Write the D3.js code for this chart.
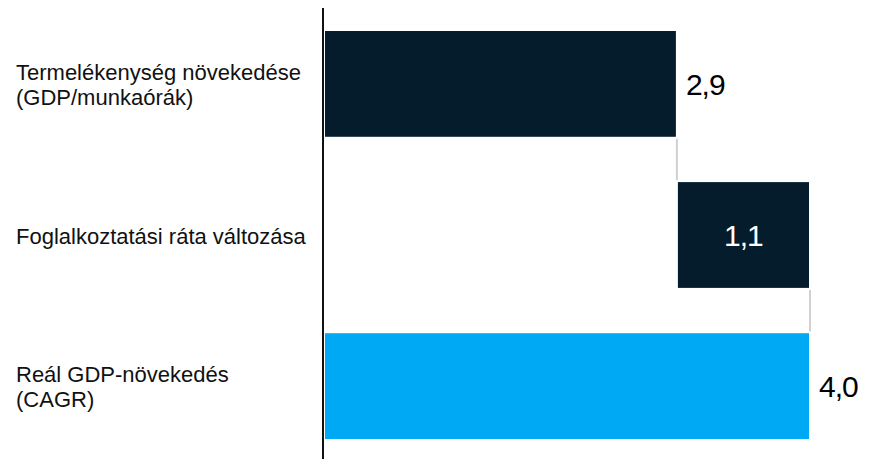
<!DOCTYPE html>
<html><head><meta charset="utf-8">
<script src="https://cdn.jsdelivr.net/npm/d3@7"></script>
<style>body{margin:0;background:#fff}svg{display:block}text{font-family:"Liberation Sans",Arial,sans-serif}</style>
</head><body><svg id="c" width="878" height="459"></svg>
<script>
const categories = [["Termelékenység növekedése","(GDP/munkaórák)"],["Foglalkoztatási ráta változása"],["Reál GDP-növekedés","(CAGR)"]];
const values = [2.9, 1.1, 4.0];
const valueLabels = ["2,9","1,1","4,0"];
const kinds = ["step","step","total"];
const colors = {step:"#051c2c", total:"#00a9f4"};

const svg = d3.select("#c");
const x = d3.scaleLinear().domain([0,4.0]).range([325,809]);
const y = d3.scaleBand().domain(d3.range(values.length)).range([31,439]).paddingInner(0.3).paddingOuter(0);

let cum = 0;
const bars = values.map((v,i)=>{
  let x0,x1;
  if(kinds[i]==="total"){x0=0;x1=v;cum=v;}
  else{x0=cum;x1=cum+v;cum=x1;}
  return {i,x0,x1,v};
});

// connectors
for(let i=0;i<bars.length-1;i++){
  const xe = x(bars[i].x1)+1;
  svg.append("line").attr("x1",xe).attr("x2",xe)
    .attr("y1",y(i)+y.bandwidth()+2).attr("y2",y(i+1)-2)
    .attr("stroke","#d0d0d0").attr("stroke-width",2);
}

svg.selectAll("rect.bar").data(bars).join("rect").attr("class","bar")
  .attr("x",d=>x(d.x0)+(d.i===1?2:0)).attr("width",d=>x(d.x1)-x(d.x0)-(d.i===1?2:0))
  .attr("y",d=>y(d.i)).attr("height",y.bandwidth())
  .attr("fill",d=>colors[kinds[d.i]]);

// axis line
svg.append("line").attr("x1",323).attr("x2",323).attr("y1",8).attr("y2",459)
  .attr("stroke","#111").attr("stroke-width",2);

// value labels
bars.forEach(d=>{
  const inside = d.i===1;
  const cy = y(d.i)+y.bandwidth()/2;
  svg.append("text")
    .attr("x", inside ? (x(d.x0)+x(d.x1))/2+1 : x(d.x1)+10)
    .attr("y", cy)
    .attr("dy","0.36em")
    .attr("text-anchor", inside?"middle":"start")
    .attr("font-size",30)
    .attr("letter-spacing",-1)
    .attr("fill", inside?"#fff":"#000")
    .text(valueLabels[d.i]);
});

// category labels
categories.forEach((lines,i)=>{
  const cy = y(i)+y.bandwidth()/2;
  const lh = 25;
  const t = svg.append("text").attr("x",16).attr("font-size",22).attr("fill","#111");
  lines.forEach((l,j)=>{
    t.append("tspan").attr("x",16)
     .attr("y", cy + (j-(lines.length-1)/2)*lh)
     .attr("dy","0.4em").text(l);
  });
});
</script></body></html>
